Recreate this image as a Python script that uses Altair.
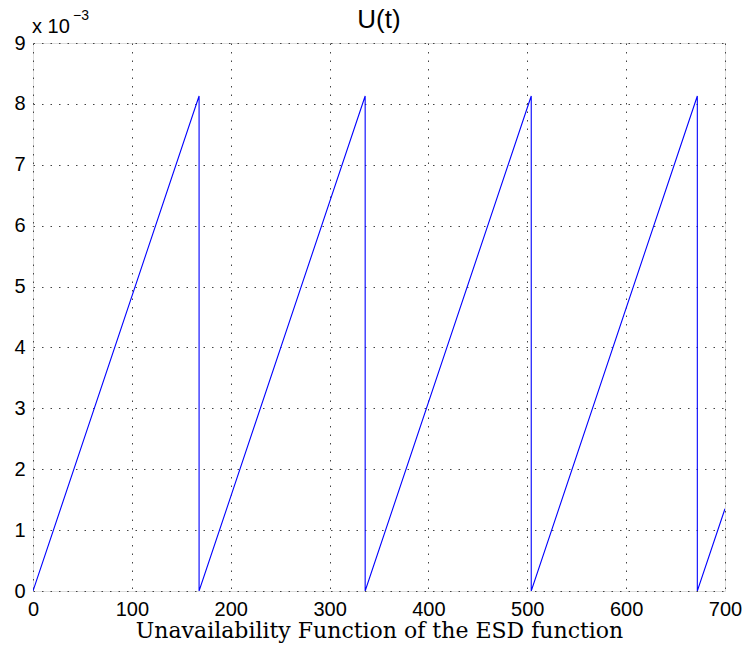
import altair as alt
import pandas as pd

t_vals = [0, 168, 168, 336, 336, 504, 504, 672, 672, 700]
u_vals = [0.0, 0.00813, 0.0, 0.00813, 0.0, 0.00813, 0.0, 0.00813, 0.0, 0.00135]
x_ticks = [0, 100, 200, 300, 400, 500, 600, 700]
y_ticks = [0, 0.001, 0.002, 0.003, 0.004, 0.005, 0.006, 0.007, 0.008, 0.009]

df = pd.DataFrame({"t": t_vals, "U": u_vals, "order": list(range(len(t_vals)))})

line = alt.Chart(df).mark_line(color="#0000ff", strokeWidth=1.1, clip=True).encode(
    x=alt.X("t:Q", scale=alt.Scale(domain=[0, 700], nice=False, zero=False),
            axis=alt.Axis(values=x_ticks, title="Unavailability Function of the ESD function",
                          titleFont="DejaVu Serif", titleFontSize=22, titleFontWeight="normal",
                          titleColor="#000", titlePadding=1,
                          labelFont="Liberation Sans", labelFontSize=20, labelColor="#000",
                          labelPadding=8, ticks=False, domain=False,
                          grid=True, gridColor="#444", gridDash=[1.5, 7], gridWidth=1,
                          labelFlush=False)),
    y=alt.Y("U:Q", scale=alt.Scale(domain=[0, 0.009], nice=False),
            axis=alt.Axis(values=y_ticks, title=None, labelExpr="format(datum.value*1000, 'd')",
                          labelFont="Liberation Sans", labelFontSize=20, labelColor="#000",
                          labelPadding=8, ticks=False, domain=False,
                          grid=True, gridColor="#444", gridDash=[1.5, 7], gridWidth=1)),
    order="order:Q",
)

exp_base = alt.Chart(pd.DataFrame({"s": ["x 10"]})).mark_text(
    align="left", baseline="alphabetic", font="Liberation Sans", fontSize=20, color="#000"
).encode(x=alt.value(-1), y=alt.value(-10), text="s:N")
exp_sup = alt.Chart(pd.DataFrame({"s": ["\u22123"]})).mark_text(
    align="left", baseline="alphabetic", font="Liberation Sans", fontSize=14, color="#000"
).encode(x=alt.value(40), y=alt.value(-23), text="s:N")
title_txt = alt.Chart(pd.DataFrame({"s": ["U(t)"]})).mark_text(
    align="center", baseline="alphabetic", font="Liberation Sans", fontSize=26, color="#000"
).encode(x=alt.value(346), y=alt.value(-15), text="s:N")

chart = alt.layer(line, exp_base, exp_sup, title_txt).properties(
    width=692, height=548,
    autosize=alt.AutoSizeParams(type="none"),
    padding={"left": 33, "top": 43, "right": 20, "bottom": 64},
).configure_view(stroke="#000", strokeWidth=1.2).configure(background="white")

chart.save("out.html", embed_options={"renderer": "svg", "actions": False})
